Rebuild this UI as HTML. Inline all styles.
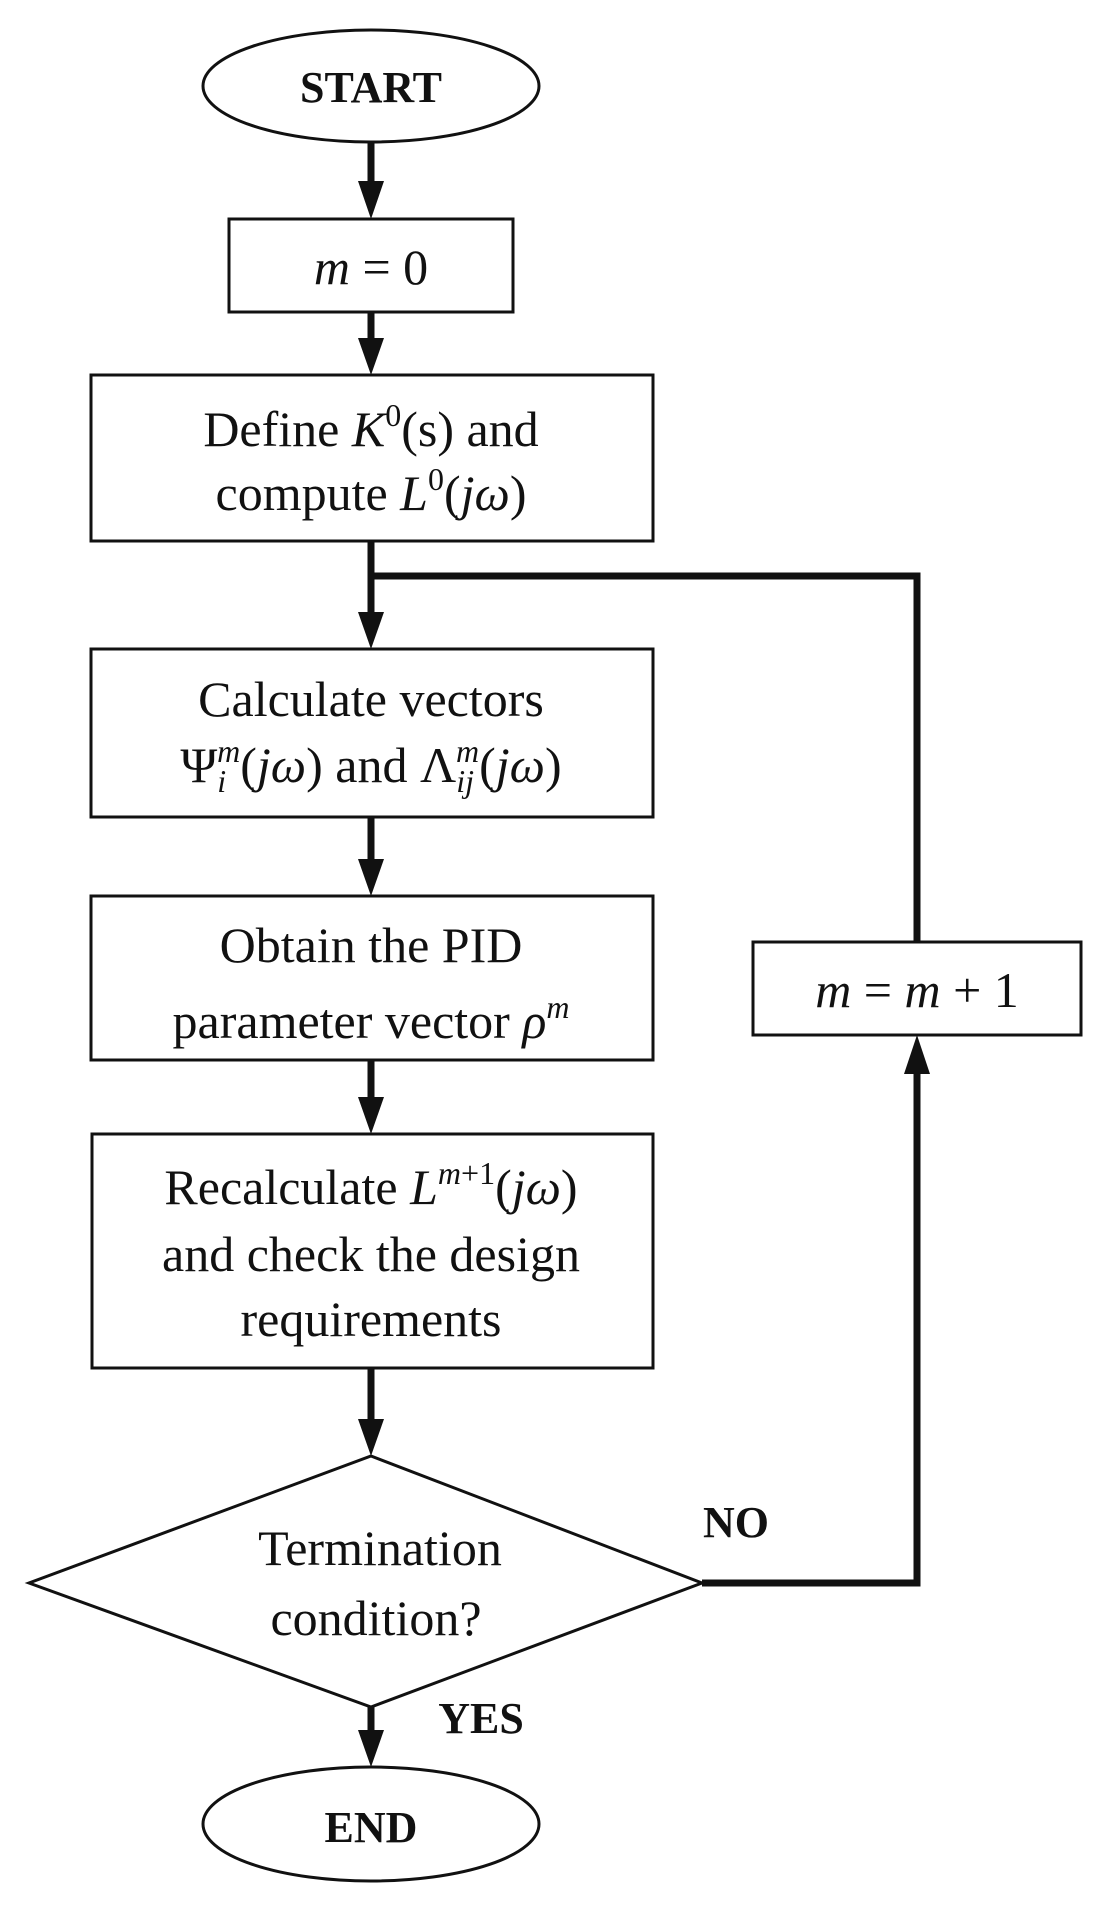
<!DOCTYPE html>
<html><head><meta charset="utf-8"><style>
html,body{margin:0;padding:0;background:#fff;}
svg{display:block;}
text{font-family:"Liberation Serif",serif;fill:#111;}
.t{font-size:50px;}
.i{font-style:italic;}
.b{font-weight:bold;font-size:44px;}
</style></head><body>
<svg width="1117" height="1914" viewBox="0 0 1117 1914" xmlns="http://www.w3.org/2000/svg">
<g fill="none" stroke="#111" stroke-width="3">
<ellipse cx="371" cy="86" rx="168" ry="56"/>
<rect x="229" y="219" width="284" height="93"/>
<rect x="91" y="375" width="562" height="166"/>
<rect x="91" y="649" width="562" height="168"/>
<rect x="91" y="896" width="562" height="164"/>
<rect x="92" y="1134" width="561" height="234"/>
<polygon points="371,1456 702,1583 371,1707 29,1583"/>
<ellipse cx="371" cy="1824" rx="168" ry="57"/>
<rect x="753" y="942" width="328" height="93"/>
</g>
<g stroke="#111" stroke-width="7" fill="none">
<line x1="371" y1="142" x2="371" y2="185"/>
<line x1="371" y1="312" x2="371" y2="342"/>
<line x1="371" y1="541" x2="371" y2="616"/>
<polyline points="371,576 917,576 917,942"/>
<line x1="371" y1="817" x2="371" y2="863"/>
<line x1="371" y1="1060" x2="371" y2="1101"/>
<line x1="371" y1="1368" x2="371" y2="1423"/>
<line x1="371" y1="1707" x2="371" y2="1734"/>
<polyline points="702,1583 917,1583 917,1070"/>
</g>
<g fill="#111">
<polygon points="358,181 384,181 371,219"/>
<polygon points="358,338 384,338 371,375"/>
<polygon points="358,612 384,612 371,649"/>
<polygon points="358,859 384,859 371,896"/>
<polygon points="358,1097 384,1097 371,1134"/>
<polygon points="358,1419 384,1419 371,1456"/>
<polygon points="358,1730 384,1730 371,1767"/>
<polygon points="904,1074 930,1074 917,1035"/>
</g>
<text class="b" x="371" y="102" text-anchor="middle">START</text>
<text class="t" x="371" y="284" text-anchor="middle"><tspan class="i">m</tspan> = 0</text>
<text class="t" x="371" y="446" text-anchor="middle">Define <tspan class="i">K</tspan><tspan font-size="32" dy="-20">0</tspan><tspan dy="20">(s) and</tspan></text>
<text class="t" x="371" y="510" text-anchor="middle">compute <tspan class="i">L</tspan><tspan font-size="32" dy="-20">0</tspan><tspan dy="20">(</tspan><tspan class="i">jω</tspan>)</text>
<text class="t" x="371" y="716" text-anchor="middle">Calculate vectors</text>
<text class="t" x="371" y="782" text-anchor="middle">Ψ<tspan font-size="32" class="i" dy="10">i</tspan><tspan font-size="32" class="i" dx="-9" dy="-30">m</tspan><tspan dy="20">(</tspan><tspan class="i">jω</tspan>) and Λ<tspan font-size="32" class="i" dy="10">ij</tspan><tspan font-size="32" class="i" dx="-18" dy="-30">m</tspan><tspan dy="20">(</tspan><tspan class="i">jω</tspan>)</text>
<text class="t" x="371" y="962" text-anchor="middle">Obtain the PID</text>
<text class="t" x="371" y="1038" text-anchor="middle">parameter vector <tspan class="i">ρ</tspan><tspan class="i" font-size="32" dy="-20">m</tspan></text>
<text class="t" x="371" y="1204" text-anchor="middle">Recalculate <tspan class="i">L</tspan><tspan font-size="32" dy="-20"><tspan class="i">m</tspan>+1</tspan><tspan dy="20">(</tspan><tspan class="i">jω</tspan>)</text>
<text class="t" x="371" y="1271" text-anchor="middle">and check the design</text>
<text class="t" x="371" y="1336" text-anchor="middle">requirements</text>
<text class="t" x="380" y="1565" text-anchor="middle">Termination</text>
<text class="t" x="376" y="1635" text-anchor="middle">condition?</text>
<text class="b" x="736" y="1537" text-anchor="middle">NO</text>
<text class="b" x="481" y="1733" text-anchor="middle">YES</text>
<text class="b" x="371" y="1842" text-anchor="middle">END</text>
<text class="t" x="917" y="1007" text-anchor="middle"><tspan class="i">m</tspan> = <tspan class="i">m</tspan> + 1</text>
</svg>
</body></html>
